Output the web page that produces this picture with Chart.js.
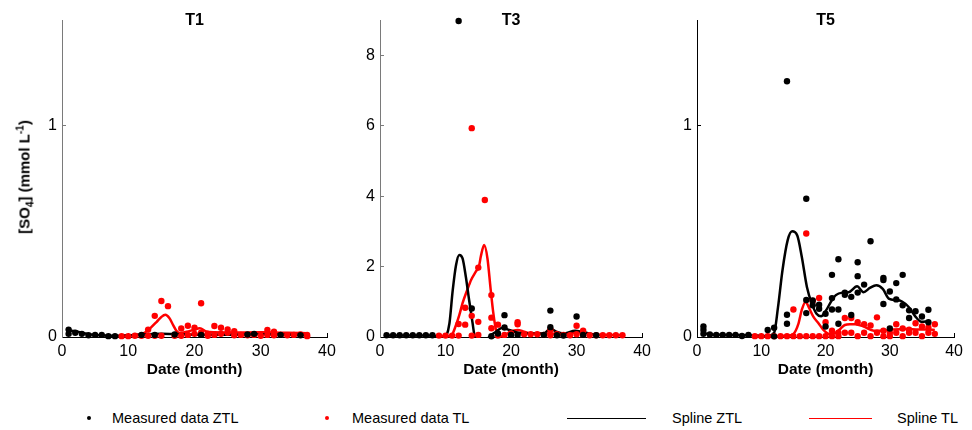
<!DOCTYPE html>
<html>
<head>
<meta charset="utf-8">
<script src="https://cdn.jsdelivr.net/npm/chart.js@4.4.1/dist/chart.umd.min.js"></script>
<style>
  body { margin: 0; background: #fff; font-family: "Liberation Sans", Arial, sans-serif; }
  #wrap { position: relative; width: 972px; height: 430px; overflow: hidden; }
  #wrap canvas { position: absolute; top: 0; }
  #ylab { position: absolute; left: 25px; top: 177px; transform: translate(-50%, -50%) rotate(-90deg);
          font-weight: bold; font-size: 15px; white-space: nowrap; color: #000; }
  #ylab sub, #ylab sup { font-size: 10px; }
  .leg { position: absolute; top: 409px; font-size: 14.5px; line-height: 18px; color: #000; white-space: nowrap; }
  .dot { position: absolute; width: 4px; height: 4px; border-radius: 50%; top: 416px; }
  .ln { position: absolute; height: 1px; top: 418px; }
</style>
</head>
<body>
<div id="wrap">
  <canvas id="c1" width="345" height="395" style="left:0px"></canvas>
  <canvas id="c2" width="315" height="395" style="left:345px"></canvas>
  <canvas id="c3" width="312" height="395" style="left:660px"></canvas>
  <div id="ylab">[SO<sub>4</sub>] (mmol L<sup>-1</sup>)</div>

  <div class="dot" style="left:87px;background:#000"></div>
  <div class="leg" style="left:112px">Measured data ZTL</div>
  <div class="dot" style="left:325px;background:#f00"></div>
  <div class="leg" style="left:352px">Measured data TL</div>
  <div class="ln" style="left:567px;width:79px;background:#000"></div>
  <div class="leg" style="left:672px">Spline ZTL</div>
  <div class="ln" style="left:809px;width:63px;background:#f00"></div>
  <div class="leg" style="left:897px">Spline TL</div>
</div>
<script>
// tick positions
const xTicks = [0, 10, 20, 30, 40];
const yTicksT1 = [0, 1];
const yTicksT3 = [0, 2, 4, 6, 8];
const yTicksT5 = [0, 1];

// T1 : [month, SO4]
const t1MeasuredZTL = [[1,0.035],[1,0.015],[2,0.02],[3,0.015],[4,0.008],[5,0.01],[6,0.01],[7,0.004],[8,0.004],
  [12,0.01],[14,0.01],[17,0.012],[21,0.01],[28,0.012],[29,0.015],[33,0.01],[36,0.008]];
const t1MeasuredTL = [[9,0.004],[10,0.004],[11,0.006],[12,0.006],[13,0.035],[13,0.006],[14,0.1],[14,0.006],
  [15,0.17],[15,0.006],[16,0.146],[17,0.006],[18,0.04],[18,0.006],[19,0.053],[19,0.01],[20,0.044],[20,0.015],
  [21,0.16],[21,0.02],[22,0.015],[22,0.006],[23,0.052],[23,0.01],[24,0.044],[24,0.015],[25,0.036],[25,0.02],
  [26,0.028],[26,0.008],[27,0.01],[28,0.008],[29,0.01],[30,0.006],[31,0.033],[31,0.01],[32,0.025],[32,0.008],
  [33,0.01],[34,0.008],[35,0.01],[36,0.012],[37,0.01],[37,0.004]];
const t1SplineZTL = [[1,0.03],[2,0.027],[3,0.02],[4,0.013],[5,0.01],[6,0.008],[8,0.006],[10,0.008],[12,0.012],
  [15,0.015],[18,0.013],[22,0.011],[26,0.011],[30,0.013],[34,0.011],[37,0.009]];
const t1SplineTL = [[9,0.006],[11,0.01],[12.3,0.017],[13.3,0.041],[14.3,0.072],[15,0.095],[15.6,0.105],[16.2,0.09],
  [16.8,0.055],[17.3,0.028],[17.8,0.018],[18.8,0.025],[19.8,0.033],[20.8,0.041],[21.8,0.026],[23,0.022],
  [26,0.021],[30,0.022],[34,0.02],[37,0.018]];

// T3
const t3MeasuredZTL = [[1,0.05],[2,0.05],[3,0.05],[4,0.05],[5,0.05],[6,0.05],[7,0.05],[8,0.05],[12,8.97],[14,0.81],
  [17,0.02],[18,0.1],[19,0.62],[19,0.27],[20,0.06],[21,0.06],[25,0.06],[26,0.75],[26,0.28],[27,0.05],[28,0.04],
  [30,0.58],[31,0.06],[33,0.05]];
const t3MeasuredTL = [[9,0.04],[10,0.04],[11,0.04],[12,0.37],[12,0.04],[13,0.83],[13,0.35],[14,5.93],[14,0.6],
  [14,0.04],[15,1.97],[15,0.43],[15,0.06],[16,3.89],[17,1.19],[17,0.55],[17,0.25],[18,0.35],[18,0.04],[19,0.06],
  [20,0.1],[21,0.42],[21,0.36],[22,0.08],[23,0.08],[24,0.08],[25,0.06],[26,0.2],[26,0.05],[27,0.08],[28,0.06],
  [29,0.05],[30,0.32],[30,0.08],[31,0.18],[31,0.06],[32,0.05],[33,0.05],[34,0.05],[35,0.05],[36,0.05],[37,0.05]];
const t3SplineZTL = [[1,0.04],[4,0.04],[8,0.04],[8.8,0],[9.4,-0.15],[10.1,0.01],[10.6,0.39],[11.1,1.33],[11.6,2.04],
  [12.1,2.33],[12.6,2.23],[13.1,1.71],[13.6,1.05],[14.1,0.43],[14.4,0.06],[15,-0.3],[16,-0.2],[16.7,0.01],
  [17.7,0.15],[18.7,0.26],[19.7,0.2],[20.9,0.13],[22,0.1],[25,0.1],[26,0.24],[26.9,0.15],[28,0.1],[29.8,0.18],
  [30.9,0.14],[31.9,0.1],[33,0.05]];
const t3SplineTL = [[9,0.03],[10,0.02],[10.9,0.05],[11.6,0.34],[12.1,0.62],[12.6,0.96],[13.3,1.33],[13.9,1.62],
  [14.6,1.85],[15.1,2.0],[15.4,2.3],[15.9,2.61],[16.4,2.23],[16.9,1.33],[17.3,0.67],[17.7,0.2],[18.1,0.01],
  [18.9,0.03],[19.9,0.15],[21,0.2],[22,0.15],[23,0.1],[26,0.1],[28,0.09],[30,0.13],[31,0.12],[33,0.07],[37,0.05]];

// T5
const t5MeasuredZTL = [[1,0.05],[1,0.033],[1,0.015],[2,0.012],[3,0.01],[4,0.01],[5,0.01],[6,0.01],[7,0.005],
  [8,0.01],[11,0.033],[12,0.044],[12,0.003],[14,1.21],[14,0.105],[14,0.063],[17,0.654],[17,0.175],[17,0.113],
  [18,0.173],[18,0.15],[19,0.153],[19,0.134],[20,0.11],[20,0.05],[21,0.294],[21,0.184],[21,0.13],[22,0.368],
  [22,0.13],[22,0.063],[23,0.21],[23,0.2],[24,0.19],[24,0.104],[25,0.354],[25,0.288],[25,0.21],[26,0.248],
  [27,0.453],[29,0.28],[29,0.27],[29,0.156],[30,0.215],[30,0.04],[31,0.255],[31,0.178],[32,0.294],[32,0.15],
  [33,0.126],[33,0.09],[34,0.122],[35,0.097],[36,0.129],[36,0.07]];
const t5MeasuredTL = [[9,0.004],[10,0.004],[11,0.004],[12,0.004],[13,0.004],[14,0.004],[15,0.13],[15,0.004],
  [16,0.004],[17,0.49],[17,0.004],[18,0.17],[18,0.004],[19,0.185],[19,0.004],[20,0.07],[20,0.004],[21,0.03],
  [21,0.004],[22,0.02],[22,0.004],[23,0.09],[23,0.02],[24,0.09],[24,0.02],[25,0.07],[25,0.004],[26,0.06],
  [26,0.02],[27,0.055],[27,0.004],[28,0.093],[28,0.02],[29,0.03],[29,0.004],[30,0.02],[30,0.004],[31,0.06],
  [31,0.02],[32,0.04],[32,0.004],[33,0.035],[33,0.02],[34,0.065],[34,0.02],[35,0.05],[35,0.004],[36,0.045],
  [36,0.02],[37,0.06],[37,0.015]];
const t5SplineZTL = [[1,0.02],[2,0.012],[4,0.01],[8,0.008],[10,0.006],[11,0.004],[12,0.02],[12.6,0.14],[13.3,0.316],
  [14.1,0.457],[14.8,0.5],[15.6,0.48],[16.3,0.38],[17.1,0.237],[17.85,0.159],[18.6,0.11],[19.3,0.098],[20.1,0.127],
  [20.9,0.17],[21.6,0.198],[22.6,0.21],[23.6,0.212],[24.9,0.24],[25.9,0.212],[26.9,0.232],[27.9,0.245],
  [28.9,0.228],[29.9,0.18],[30.9,0.175],[31.9,0.168],[32.9,0.143],[33.9,0.1],[34.9,0.072],[36,0.075]];
const t5SplineTL = [[9,0.004],[12,0.004],[14,0.006],[15,0.015],[15.8,0.065],[16.3,0.128],[16.9,0.167],[17.4,0.14],
  [18.1,0.096],[18.9,0.065],[19.6,0.036],[20.6,0.014],[21.4,0.017],[22.2,0.036],[23,0.057],[23.8,0.06],
  [24.6,0.06],[25.9,0.05],[27.5,0.03],[29,0.03],[30.5,0.035],[32.5,0.038],[34.5,0.035],[36,0.035],[37,0.033]];

const FONT = '"Liberation Sans", Arial, sans-serif';

// panel title drawn centred above the plot area
const panelTitle = {
  id: 'panelTitle',
  afterDraw(chart, args, opts) {
    const ctx = chart.ctx, a = chart.chartArea;
    ctx.save();
    ctx.font = 'bold 16px ' + FONT;
    ctx.fillStyle = '#000';
    ctx.textAlign = 'center';
    ctx.textBaseline = 'middle';
    ctx.fillText(opts.text, (a.left + a.right) / 2, 21);
    ctx.restore();
  }
};

function toPts(arr) {
  return arr.map(function(p){ return {x: p[0], y: p[1]}; });
}

function dots(arr, color) {
  return {
    data: toPts(arr), showLine: false,
    pointRadius: 3.2, pointHoverRadius: 3.2, pointBorderWidth: 0,
    pointBackgroundColor: color, borderColor: color,
    clip: 8
  };
}

function spline(arr, color) {
  return {
    data: toPts(arr), showLine: true, pointRadius: 0,
    borderColor: color, borderWidth: 2.5,
    cubicInterpolationMode: 'monotone',
    clip: {left: 0, right: 0, top: 4, bottom: 1}
  };
}

function makePanel(id, title, yMax, yTicks, ztl, tl, sZtl, sTl, yWidth, padLeft, padRight, yColor) {
  var ctx = document.getElementById(id).getContext('2d');
  return new Chart(ctx, {
    type: 'scatter',
    data: {
      datasets: [dots(ztl, '#000'), dots(tl, '#f00'), spline(sZtl, '#000'), spline(sTl, '#f00')]
    },
    options: {
      responsive: false,
      animation: false,
      events: [],
      layout: { padding: { left: padLeft, right: padRight, top: 20, bottom: 8 } },
      plugins: {
        legend: { display: false },
        tooltip: { enabled: false },
        panelTitle: { text: title }
      },
      scales: {
        x: {
          type: 'linear', min: 0, max: 40,
          afterBuildTicks: function(s){ s.ticks = xTicks.map(function(v){ return {value: v}; }); },
          afterFit: function(s){ s.height = 50; },
          border: { color: '#000', width: 1 },
          grid: { drawOnChartArea: false, tickLength: -4, color: '#000' },
          ticks: { padding: 9, color: '#000', font: { family: FONT, size: 16 }, maxRotation: 0 },
          title: { display: true, text: 'Date (month)', color: '#000',
                   font: { family: FONT, size: 15.5, weight: 'bold' }, padding: { top: 0, bottom: 8 } }
        },
        y: {
          type: 'linear', min: 0, max: yMax,
          afterBuildTicks: function(s){ s.ticks = yTicks.map(function(v){ return {value: v}; }); },
          afterFit: function(s){ s.width = yWidth; },
          border: { color: yColor, width: 1 },
          grid: { drawOnChartArea: false, tickLength: -4, color: yColor },
          ticks: { padding: 9, color: '#000', font: { family: FONT, size: 16 } }
        }
      }
    },
    plugins: [panelTitle]
  });
}

makePanel('c1', 'T1', 1.5, yTicksT1, t1MeasuredZTL, t1MeasuredTL, t1SplineZTL, t1SplineTL, 40, 22, 18, '#7a7a7a');
makePanel('c2', 'T3', 9, yTicksT3, t3MeasuredZTL, t3MeasuredTL, t3SplineZTL, t3SplineTL, 30, 5, 16, '#7a7a7a');
makePanel('c3', 'T5', 1.5, yTicksT5, t5MeasuredZTL, t5MeasuredTL, t5SplineZTL, t5SplineTL, 30, 7, 10, '#000');
</script>
</body>
</html>
